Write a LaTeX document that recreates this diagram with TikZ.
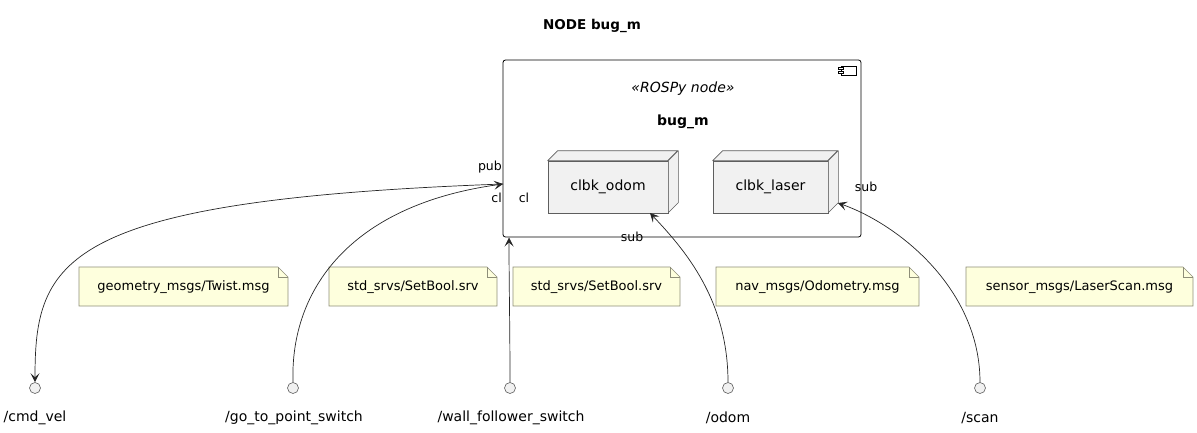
\documentclass[tikz,border=0pt]{standalone}
\usepackage{fontspec}
\setmainfont{DejaVu Sans}
\usetikzlibrary{arrows.meta,calc}
\definecolor{notefill}{HTML}{FEFFDD}
\definecolor{noteline}{HTML}{8E8E78}
\definecolor{boxfill}{HTML}{F1F1F1}
\definecolor{boxline}{HTML}{5E5E5E}
\tikzset{
  comp/.style={draw=black, line width=0.8pt, fill=white, rounded corners=2.5pt, inner sep=0pt},
  cbfront/.style={draw=boxline, line width=0.6pt, fill=boxfill, inner sep=0pt, font=\fontsize{14}{16}\selectfont},
  cbface/.style={draw=boxline, line width=0.6pt, fill=boxfill, line join=round},
  topic/.style={circle, draw=boxline, line width=0.6pt, fill=boxfill, minimum size=11pt, inner sep=0pt},
  topiclbl/.style={font=\fontsize{14}{16}\selectfont, inner sep=0pt},
  notebox/.style={font=\fontsize{13}{15}\selectfont, inner sep=0pt},
  portlbl/.style={font=\fontsize{12.5}{14}\selectfont, inner sep=0pt},
  conn/.style={draw=black!85, line width=0.7pt},
  arr/.style={conn, -{Stealth[length=9pt,width=9pt,inset=4pt]}}
}
\newcommand{\notedraw}[5]{% name, x1, x2, y, text
  \draw[noteline, line width=0.6pt, fill=notefill] (#2,267) -- (#3-10,267) -- (#3,277) -- (#3,306) -- (#2,306) -- cycle;
  \draw[noteline, line width=0.6pt] (#3-10,267) -- (#3-10,277) -- (#3,277);
  \node[notebox] (#1) at ({(#2+#3)/2},287) {#5};
}
\begin{document}
\begin{tikzpicture}[x=1pt,y=-1pt]
\useasboundingbox (0,0) rectangle (1197,432);

% title
\node[font=\bfseries\fontsize{13.5}{16}\selectfont, inner sep=0pt] (title) at (592,26) {NODE bug\_m};

% component
\node[comp, minimum width=358pt, minimum height=177pt] (bug) at (682,148.5) {};
\node[font=\itshape\fontsize{14}{16}\selectfont, inner sep=0pt] (stereo) at (683,89) {«ROSPy node»};
\node[font=\bfseries\fontsize{14}{16}\selectfont, inner sep=0pt] (bugname) at (683,122) {bug\_m};
% component icon
\draw[black, line width=0.7pt, fill=white] (841,66) rectangle (856,75);
\draw[black, line width=0.6pt, fill=white] (838.5,67.5) rectangle (843.5,69.5);
\draw[black, line width=0.6pt, fill=white] (838.5,71.5) rectangle (843.5,73.5);

% callback boxes
\node[cbfront, minimum width=120pt, minimum height=52pt] (odomcb) at (608,187) {clbk\_odom};
\draw[cbface] (odomcb.north west) -- ++(10,-10) -- ++(120,0) -- ++(-10,10) -- cycle;
\draw[cbface] (odomcb.north east) -- ++(10,-10) -- ++(0,52) -- ++(-10,10) -- cycle;
\node[cbfront, minimum width=115pt, minimum height=52pt] (lasercb) at (770.5,187) {clbk\_laser};
\draw[cbface] (lasercb.north west) -- ++(10,-10) -- ++(115,0) -- ++(-10,10) -- cycle;
\draw[cbface] (lasercb.north east) -- ++(10,-10) -- ++(0,52) -- ++(-10,10) -- cycle;

% ports
\coordinate (pubpt) at (503,184);
\coordinate (wallpt) at (509,237.5);
\coordinate (odompt) at (650,213);
\coordinate (laserpt) at (838,203);

% topics
\node[topic] (cmd) at (35,388) {};
\node[topic] (gtp) at (293,388) {};
\node[topic] (wall) at (510,388) {};
\node[topic] (odom) at (728,388) {};
\node[topic] (scan) at (980,388) {};
\node[topiclbl] (cmdl) at (35,418) {/cmd\_vel};
\node[topiclbl] (gtpl) at (294,418) {/go\_to\_point\_switch};
\node[topiclbl] (walll) at (511,418) {/wall\_follower\_switch};
\node[topiclbl] (odoml) at (728,418) {/odom};
\node[topiclbl] (scanl) at (980,418) {/scan};

% notes
\notedraw{n1}{79}{288}{287}{geometry\_msgs/Twist.msg}
\notedraw{n2}{329}{497}{287}{std\_srvs/SetBool.srv}
\notedraw{n3}{513}{680}{287}{std\_srvs/SetBool.srv}
\notedraw{n4}{716}{919}{287}{nav\_msgs/Odometry.msg}
\notedraw{n5}{966}{1193}{287}{sensor\_msgs/LaserScan.msg}

% connectors
\draw[arr] (pubpt) .. controls (60,200) and (35,260) .. (cmd.north);
\draw[arr] (gtp.north) .. controls (290,290) and (350,205) .. (pubpt);
\draw[arr] (wall.north) .. controls (510,330) and (509,280) .. (wallpt);
\draw[arr] (odom.north) .. controls (728,300) and (685,250) .. (odompt);
\draw[arr] (scan.north) .. controls (980,290) and (900,225) .. (laserpt);

% port labels
\node[portlbl, anchor=east] (publ) at (502,167) {pub};
\node[portlbl, anchor=east] (cl1) at (502,198) {cl};
\node[portlbl] (cl2) at (524,198) {cl};
\node[portlbl] (sub1) at (632,237) {sub};
\node[portlbl] (sub2) at (866,187) {sub};
\end{tikzpicture}
\end{document}
